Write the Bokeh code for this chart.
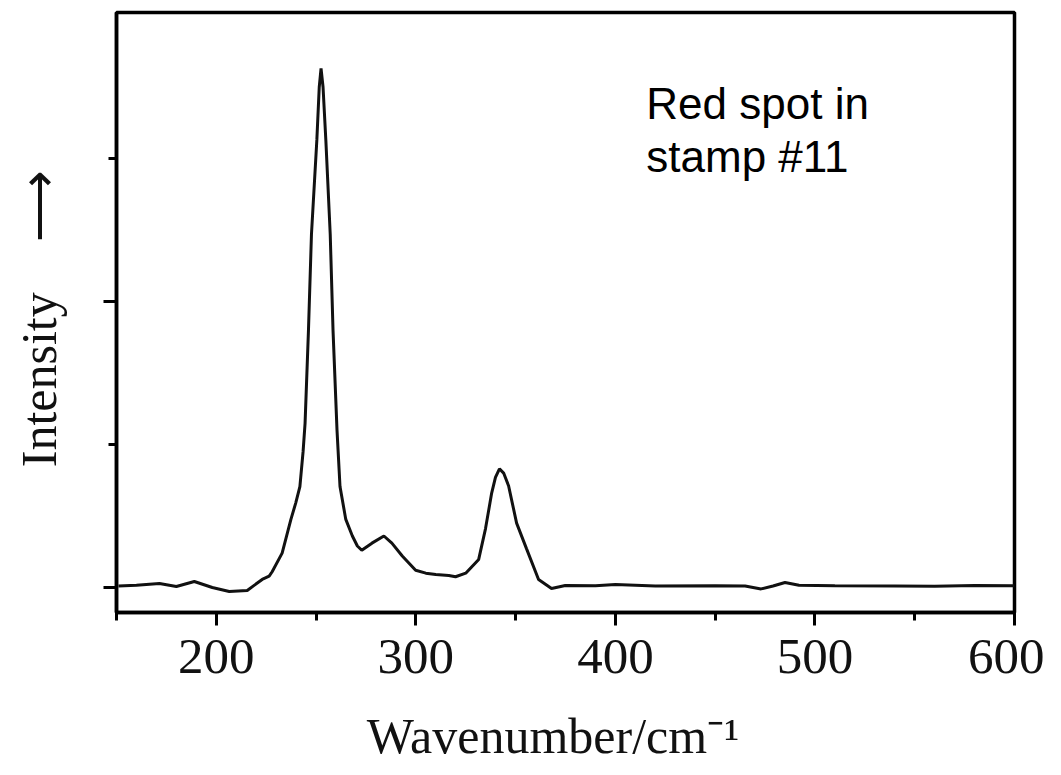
from bokeh.plotting import figure
from bokeh.models import Range1d, FixedTicker, Label
from bokeh.embed import file_html
from bokeh.resources import INLINE

# Raman spectrum
wavenumber = [151, 160, 171.5, 180, 189, 198, 206.5, 215.5, 223, 226.5, 228, 233,
              237.4, 239.8, 241.9, 243.5, 244.5, 246.2, 247.7, 250.4, 251.6, 252.5, 253.5, 254.9,
              257.1, 258.5, 260.5, 262, 264.9, 268.2, 270.7, 272.9, 278, 284, 288,
              293.2, 299.9, 305, 310, 316.5, 319.9, 325, 331.5, 334.9, 338, 339.9,
              341.9, 344, 346.5, 350.5, 355.5, 361.5, 368, 374.9, 390, 400, 420,
              450, 465, 473, 479, 485, 492, 510, 540, 560, 580, 600]
intensity = [0.01, 0.015, 0.028, 0.007, 0.042, 0.0, -0.028, -0.021, 0.056, 0.079, 0.11, 0.24,
             0.476, 0.59, 0.706, 0.95, 1.15, 1.80, 2.47, 3.13, 3.50, 3.63, 3.50, 3.13,
             2.47, 1.80, 1.10, 0.706, 0.476, 0.36, 0.29, 0.26, 0.31, 0.36, 0.31,
             0.22, 0.12, 0.10, 0.09, 0.084, 0.075, 0.10, 0.196, 0.41, 0.66, 0.77,
             0.83, 0.80, 0.71, 0.45, 0.27, 0.056, -0.007, 0.014, 0.012, 0.02, 0.01,
             0.012, 0.01, -0.01, 0.01, 0.035, 0.015, 0.012, 0.01, 0.008, 0.014, 0.012]

x_major = [200, 300, 400, 500, 600]
x_minor = [150, 250, 350, 450, 550]
y_major = [0, 2]
y_minor = [1, 3]

p = figure(x_range=Range1d(150, 600), y_range=Range1d(-0.175, 4.021),
           frame_width=898, frame_height=600,
           min_border_left=116, min_border_right=30, min_border_top=12, min_border_bottom=156,
           output_backend="svg", toolbar_location=None)

p.xgrid.visible = False
p.ygrid.visible = False
p.outline_line_color = "black"
p.outline_line_width = 3.5
p.outline_line_alpha = 1
p.background_fill_color = "white"
p.border_fill_color = "white"

for ax in (p.xaxis[0], p.yaxis[0]):
    ax.axis_line_width = 3.5
    ax.axis_line_color = "black"
    ax.major_tick_in = 0
    ax.minor_tick_in = 0
    ax.major_tick_out = 13
    ax.minor_tick_out = 8
    ax.major_tick_line_width = 3
    ax.minor_tick_line_width = 3
    ax.major_tick_line_color = "black"
    ax.minor_tick_line_color = "black"
    ax.axis_label_text_font = "Liberation Serif"
    ax.axis_label_text_font_style = "normal"
    ax.axis_label_text_color = "#111111"

p.xaxis.ticker = FixedTicker(ticks=x_major, minor_ticks=x_minor)
p.xaxis.major_label_text_font = "Liberation Serif"
p.xaxis.major_label_text_font_size = "51px"
p.xaxis.major_label_text_color = "#111111"
p.xaxis.major_label_standoff = 14
p.xaxis.axis_label = "Wavenumber/cm\u207b\u00b9\u00a0\u00a0"
p.xaxis.axis_label_text_font_size = "50px"
p.xaxis.axis_label_standoff = 32

p.yaxis.ticker = FixedTicker(ticks=y_major, minor_ticks=y_minor)
p.yaxis.major_label_overrides = {0: "", 2: ""}
p.yaxis.major_label_standoff = 0
p.yaxis.axis_label = "Intensity\u00a0\u00a0\u00a0\u00a0\u27f6\u00a0"
p.yaxis.axis_label_text_font_size = "50px"
p.yaxis.axis_label_standoff = 37

p.line(wavenumber, intensity, line_color="#111111", line_width=3)

p.add_layout(Label(x=415.5, y=3.385, text="Red spot in", text_font="Liberation Sans",
                   text_font_size="44px", text_baseline="alphabetic", text_color="black"))
p.add_layout(Label(x=415.5, y=3.014, text="stamp #11", text_font="Liberation Sans",
                   text_font_size="44px", text_baseline="alphabetic", text_color="black"))

open("out.html", "w").write(file_html(p, INLINE))
